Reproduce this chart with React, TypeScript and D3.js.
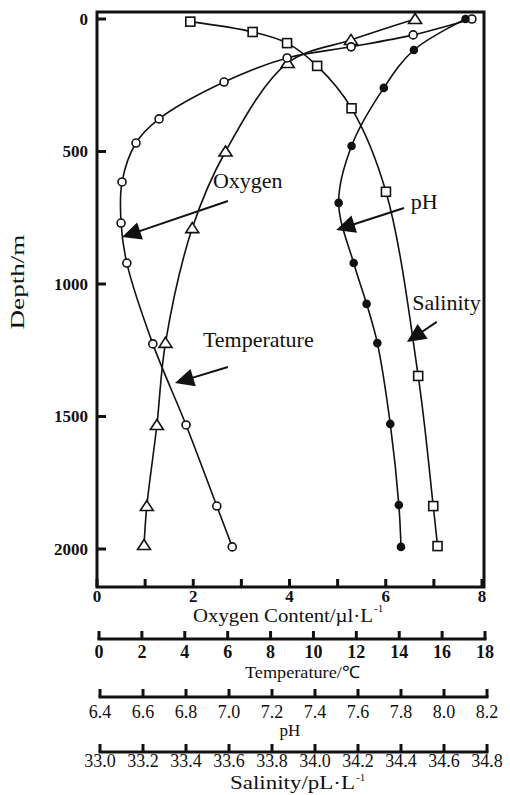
import React from 'react';
import * as d3 from 'd3';

// Dissolved oxygen profile (µl/L) against depth (m)
const oxygenDepth = [0, 60, 105, 147, 238, 377, 468, 615, 770, 921, 1226, 1532, 1838, 1992];
const oxygenContent = [7.79, 6.57, 5.28, 3.95, 2.64, 1.29, 0.81, 0.52, 0.5, 0.62, 1.16, 1.85, 2.49, 2.81];

// Temperature profile (°C)
const temperatureDepth = [0, 79, 166, 500, 789, 1222, 1532, 1838, 1985];
const temperatureValues = [14.74, 11.75, 8.8, 5.9, 4.35, 3.1, 2.7, 2.23, 2.1];

// pH profile
const phDepth = [0, 117, 260, 479, 694, 921, 1075, 1223, 1528, 1834, 1992];
const phValues = [8.1, 7.86, 7.72, 7.57, 7.51, 7.58, 7.64, 7.69, 7.75, 7.79, 7.8];

// Salinity profile
const salinityDepth = [10, 49, 91, 177, 337, 652, 1347, 1838, 1989];
const salinityValues = [33.42, 33.71, 33.87, 34.01, 34.17, 34.33, 34.48, 34.55, 34.57];

// Axis ticks
const depthTicks = [0, 500, 1000, 1500, 2000];
const oxygenTicks = [0, 1, 2, 3, 4, 5, 6, 7, 8];
const oxygenTickLabels = [0, 2, 4, 6, 8];
const temperatureTicks = [0, 2, 4, 6, 8, 10, 12, 14, 16, 18];
const phTicks = [6.4, 6.6, 6.8, 7.0, 7.2, 7.4, 7.6, 7.8, 8.0, 8.2];
const salinityTicks = [33.0, 33.2, 33.4, 33.6, 33.8, 34.0, 34.2, 34.4, 34.6, 34.8];

// Curve annotations, positioned in (oxygen, depth) units
const annotations = [
  { text: 'Oxygen', at: [2.41, 638], tail: [2.72, 687], tip: [0.52, 823] },
  { text: 'pH', at: [6.52, 717], tail: [6.38, 713], tip: [4.97, 796] },
  { text: 'Salinity', at: [6.55, 1098], tail: [7.06, 1143], tip: [6.44, 1219] },
  { text: 'Temperature', at: [2.2, 1238], tail: [2.72, 1313], tip: [1.62, 1374] },
];

const FONT = '"Liberation Serif", "Times New Roman", serif';

export default function App() {
  const W = 510;
  const H = 795;
  const frame = { left: 97, right: 484, top: 12, bottom: 587 };

  const y = d3.scaleLinear().domain([0, 2000]).range([19, 549]);
  const xO = d3.scaleLinear().domain([0, 8]).range([97, 482]);
  const xT = d3.scaleLinear().domain([0, 18]).range([99, 485]);
  const xP = d3.scaleLinear().domain([6.4, 8.2]).range([100, 487]);
  const xS = d3.scaleLinear().domain([33.0, 34.8]).range([100, 487]);

  const line = d3
    .line<[number, number]>()
    .x((d) => d[0])
    .y((d) => d[1])
    .curve(d3.curveCatmullRom.alpha(0.5));

  const oxyPts: [number, number][] = oxygenDepth.map((d, i) => [xO(oxygenContent[i]), y(d)]);
  const tempPts: [number, number][] = temperatureDepth.map((d, i) => [xT(temperatureValues[i]), y(d)]);
  const phPts: [number, number][] = phDepth.map((d, i) => [xP(phValues[i]), y(d)]);
  const salPts: [number, number][] = salinityDepth.map((d, i) => [xS(salinityValues[i]), y(d)]);

  const stroke = '#111';

  const lowerAxis = (
    scale: d3.ScaleLinear<number, number>,
    ticks: number[],
    yLine: number,
    labelY: number,
    fmt: (v: number) => string,
    bold: boolean,
    key: string
  ) => (
    <g key={key}>
      <line x1={scale(ticks[0]) - 1.5} x2={scale(ticks[ticks.length - 1]) + 1.5} y1={yLine} y2={yLine} stroke={stroke} strokeWidth={3} />
      {ticks.map((t) => (
        <g key={t}>
          <line x1={scale(t)} x2={scale(t)} y1={yLine} y2={yLine - 8} stroke={stroke} strokeWidth={3} />
          <text
            x={scale(t)}
            y={labelY}
            textAnchor="middle"
            fontSize={18}
            fontWeight={bold ? 'bold' : 'normal'}
            fontFamily={FONT}
            fill={stroke}
          >
            {fmt(t)}
          </text>
        </g>
      ))}
    </g>
  );

  const arrowHead = (tail: number[], tip: number[]) => {
    const tx = xO(tail[0]);
    const ty = y(tail[1]);
    const px = xO(tip[0]);
    const py = y(tip[1]);
    const dx = px - tx;
    const dy = py - ty;
    const len = Math.hypot(dx, dy);
    const ux = dx / len;
    const uy = dy / len;
    const hl = 19;
    const hw = 9;
    const bx = px - ux * hl;
    const by = py - uy * hl;
    return {
      line: { x1: tx, y1: ty, x2: bx + ux * 2, y2: by + uy * 2 },
      head: `M${px},${py}L${bx - uy * hw},${by + ux * hw}L${bx + uy * hw},${by - ux * hw}Z`,
    };
  };

  const tri = (cx: number, cy: number) => {
    const s = 6.5;
    return `M${cx},${cy - 5.5}L${cx + s},${cy + 4.5}L${cx - s},${cy + 4.5}Z`;
  };

  return (
    <svg
      width={W}
      height={H}
      viewBox={`0 0 ${W} ${H}`}
      style={{ position: 'absolute', left: 0, top: 0, background: '#fff' }}
    >
      <rect x={0} y={0} width={W} height={H} fill="#fff" />

      {/* curves */}
      <g fill="none" stroke={stroke} strokeWidth={1.6}>
        <path d={line(oxyPts) || ''} />
        <path d={line(tempPts) || ''} />
        <path d={line(phPts) || ''} />
        <path d={line(salPts) || ''} />
      </g>

      {/* markers */}
      <g stroke={stroke} strokeWidth={1.6}>
        {salPts.map((p, i) => (
          <rect key={`s${i}`} x={p[0] - 4.5} y={p[1] - 4.5} width={9} height={9} fill="#fff" />
        ))}
        {tempPts.map((p, i) => (
          <path key={`t${i}`} d={tri(p[0], p[1])} fill="#fff" strokeLinejoin="miter" />
        ))}
        {oxyPts.map((p, i) => (
          <circle key={`o${i}`} cx={p[0]} cy={p[1]} r={4} fill="#fff" />
        ))}
        {phPts.map((p, i) => (
          <circle key={`p${i}`} cx={p[0]} cy={p[1]} r={3.5} fill={stroke} />
        ))}
      </g>

      {/* frame */}
      <rect
        x={frame.left}
        y={frame.top}
        width={frame.right - frame.left}
        height={frame.bottom - frame.top}
        fill="none"
        stroke={stroke}
        strokeWidth={3}
      />

      {/* depth axis */}
      {depthTicks.map((t) => (
        <g key={`d${t}`}>
          <line x1={frame.left} x2={frame.left + 9} y1={y(t)} y2={y(t)} stroke={stroke} strokeWidth={3} />
          <text x={88} y={y(t)} dy="0.35em" textAnchor="end" fontSize={17} fontWeight="bold" fontFamily={FONT} fill={stroke}>
            {t}
          </text>
        </g>
      ))}
      <text
        transform={`translate(24,282) rotate(-90)`}
        textAnchor="middle"
        fontSize={19}
        fontFamily={FONT}
        fill={stroke}
        textLength={95}
        lengthAdjust="spacingAndGlyphs"
      >
        Depth/m
      </text>

      {/* oxygen axis (frame bottom) */}
      {oxygenTicks.map((t) => (
        <line key={`ot${t}`} x1={xO(t)} x2={xO(t)} y1={frame.bottom} y2={frame.bottom - 8} stroke={stroke} strokeWidth={3} />
      ))}
      {oxygenTickLabels.map((t) => (
        <text key={`ol${t}`} x={xO(t)} y={602} textAnchor="middle" fontSize={17} fontWeight="bold" fontFamily={FONT} fill={stroke}>
          {t}
        </text>
      ))}
      <text x={193} y={622} fontSize={19} fontFamily={FONT} fill={stroke} textLength={180} lengthAdjust="spacingAndGlyphs">
        Oxygen Content/µl·L
      </text>
      <text x={374} y={612} fontSize={11} fontFamily={FONT} fill={stroke}>
        -1
      </text>

      {lowerAxis(xT, temperatureTicks, 639, 658, (v) => String(v), true, 'temp')}
      <text x={245} y={678} fontSize={17} fontFamily={FONT} fill={stroke} textLength={115} lengthAdjust="spacingAndGlyphs">
        Temperature/℃
      </text>

      {lowerAxis(xP, phTicks, 697, 718, (v) => v.toFixed(1), false, 'ph')}
      <text x={290} y={736} textAnchor="middle" fontSize={17} fontFamily={FONT} fill={stroke}>
        pH
      </text>

      {lowerAxis(xS, salinityTicks, 752, 767, (v) => v.toFixed(1), false, 'sal')}
      <text x={230} y={789} fontSize={19} fontFamily={FONT} fill={stroke} textLength={125} lengthAdjust="spacingAndGlyphs">
        Salinity/pL·L
      </text>
      <text x={356} y={781} fontSize={11} fontFamily={FONT} fill={stroke}>
        -1
      </text>

      {/* annotations */}
      {annotations.map((a) => {
        const ar = arrowHead(a.tail, a.tip);
        return (
          <g key={a.text}>
            <text x={xO(a.at[0])} y={y(a.at[1])} fontSize={22} fontFamily={FONT} fill={stroke}>
              {a.text}
            </text>
            <line {...ar.line} stroke={stroke} strokeWidth={2} />
            <path d={ar.head} fill={stroke} />
          </g>
        );
      })}
    </svg>
  );
}
